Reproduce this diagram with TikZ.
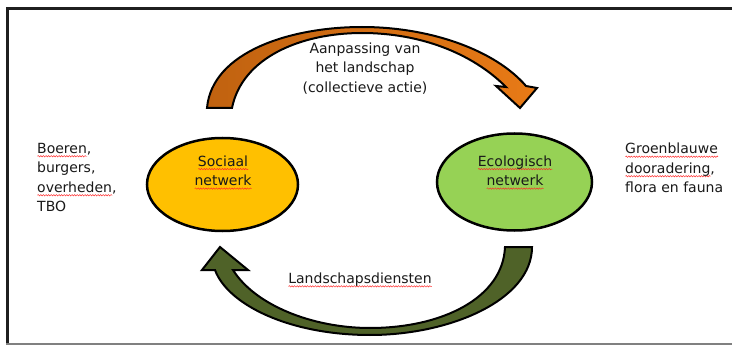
\documentclass[tikz,border=0pt]{standalone}
\usepackage{fontspec}
\setmainfont{DejaVu Sans}
\usetikzlibrary{shapes.geometric,decorations.pathmorphing}
\newsavebox\sqbox
\newcommand\sqw[1]{\sbox\sqbox{#1}\rlap{\tikz[baseline=0pt,x=1pt,y=1pt]\draw[red!85!white, line width=0.45pt, decorate, decoration={snake,amplitude=0.7pt,segment length=2.6pt}] (0,-3) -- (\wd\sqbox,-3);}#1}
\definecolor{orgL}{RGB}{192,98,16}
\definecolor{orgR}{RGB}{232,122,22}
\definecolor{olive}{RGB}{79,98,40}
\definecolor{sunY}{RGB}{255,192,0}
\definecolor{leafG}{RGB}{150,210,85}
\tikzset{
  txt/.style={font=\fontsize{14}{19.5}\selectfont, inner sep=0pt, text=black!90},
  netw/.style={ellipse, draw=black, line width=2.5pt, inner sep=0pt},
  arcarrow/.style={draw=black, line width=2pt, line join=miter}
}
\begin{document}
\begin{tikzpicture}[x=1pt,y=-1pt]
\useasboundingbox (0,0) rectangle (732,345);
\fill[white] (0,0) rectangle (732,345);
% frame
\draw[line width=3pt, black!88] (732,9) -- (7,9) -- (7,343);
\draw[line width=2pt, black!50] (6,343.5) -- (732,343.5);
% top arrow
\draw[arcarrow, left color=orgL, right color=orgR]
  (207,108) .. controls (212,52) and (290,27) .. (362,27)
  .. controls (430,27) and (495,50) .. (526,86)
  -- (537,88) -- (520,108) -- (496,86) -- (506,87)
  .. controls (472,53) and (420,33) .. (362,33)
  .. controls (300,33) and (242,58) .. (232,108) -- cycle;
% bottom arrow
\draw[arcarrow, fill=olive]
  (532,247) .. controls (532,300) and (450,335) .. (370,335)
  .. controls (290,335) and (228,305) .. (215,270)
  -- (202,270) -- (220,247) -- (248,270) -- (233,270)
  .. controls (255,305) and (312,328) .. (370,328)
  .. controls (442,328) and (503,298) .. (505,247) -- cycle;
% ellipses
\node[netw, fill=sunY, minimum width=151pt, minimum height=93pt] (soc) at (222.5,184.5) {};
\node[netw, fill=leafG, minimum width=155pt, minimum height=97pt] (eco) at (514.5,182) {};
\node[txt, align=center] (soct) at (223,172.5) {\sqw{Sociaal}\\\sqw{netwerk}};
\node[txt, align=center] (ecot) at (515,172.5) {\sqw{Ecologisch}\\\sqw{netwerk}};
% labels
\node[txt, align=center] (top) at (365,68.5) {Aanpassing van\\het landschap\\(collectieve actie)};
\node[txt] (bot) at (360,280) {\sqw{Landschapsdiensten}};
\node[txt, align=left, anchor=west] (left) at (37,177.5) {\sqw{Boeren},\\burgers,\\\sqw{overheden},\\TBO};
\node[txt, align=left, anchor=west] (right) at (625,168) {\sqw{Groenblauwe}\\\sqw{dooradering},\\flora en fauna};
\end{tikzpicture}
\end{document}
